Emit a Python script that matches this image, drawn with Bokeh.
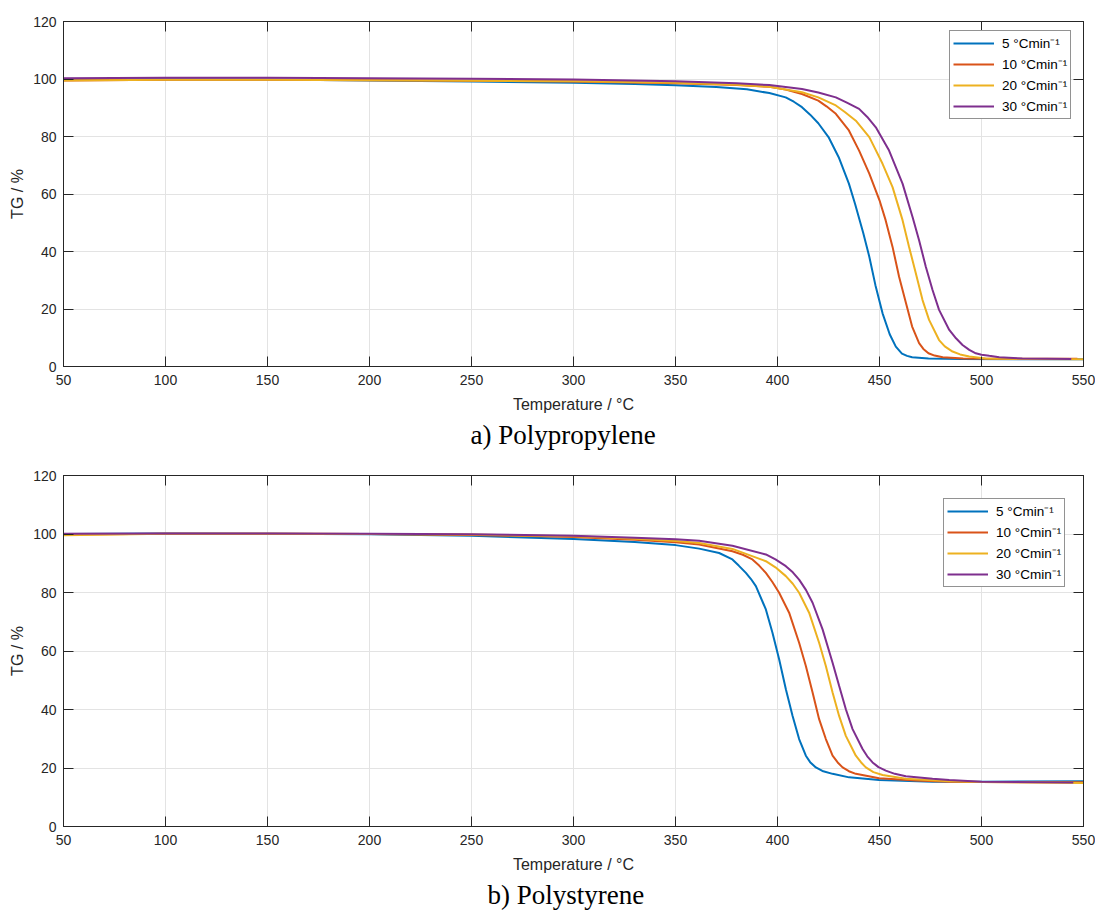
from bokeh.plotting import figure
from bokeh.models import (FixedTicker, LinearAxis, Legend, LegendItem, Title,
                          Range1d)
from bokeh.layouts import column
from bokeh.embed import file_html
from bokeh.resources import INLINE

# ---------------- data ----------------
x_ticks = [50, 100, 150, 200, 250, 300, 350, 400, 450, 500, 550]
y_ticks = [0, 20, 40, 60, 80, 100, 120]
labels = ["5 °Cmin⁻¹", "10 °Cmin⁻¹", "20 °Cmin⁻¹", "30 °Cmin⁻¹"]
colors = ["#0072BD", "#D95319", "#EDB120", "#7E2F8E"]

# a) Polypropylene
pp_t_5 = [50, 100, 150, 200, 250, 300, 330, 350, 370, 385, 396, 404, 408, 412, 416, 420, 425,
          430, 435, 438, 442, 445, 448, 451.5, 455, 458, 461, 463.5, 466, 474, 490, 520, 550]
pp_tg_5 = [99.8, 99.9, 99.8, 99.5, 99.1, 98.7, 98.3, 97.8, 97.2, 96.4, 95.1, 93.6, 92.1, 90.2,
           87.6, 84.6, 79.8, 72.8, 63.6, 56.6, 46.5, 38.2, 28.3, 18.5, 11.2, 6.9, 4.5, 3.7,
           3.2, 2.8, 2.6, 2.5, 2.5]
pp_t_10 = [50, 100, 150, 200, 250, 300, 350, 380, 396, 404, 412, 420, 424, 428.6, 435, 440,
           445, 450, 453, 456.4, 459.6, 463, 466, 469.4, 471.5, 474, 477, 481, 491, 510, 547]
pp_tg_10 = [99.5, 99.7, 99.7, 99.6, 99.4, 99.1, 98.5, 97.9, 97.3, 96.3, 94.8, 92.5, 90.5, 87.9,
            82.1, 75.1, 67.1, 57.8, 50.9, 41.6, 31.2, 22.0, 13.9, 8.1, 6.1, 4.6, 3.8, 3.2,
            2.8, 2.7, 2.7]
pp_t_20 = [50, 100, 150, 200, 250, 300, 350, 380, 396, 412, 420, 428.6, 433, 438.4, 445, 451.5,
           456.4, 461.3, 464.5, 467.8, 471.1, 474.3, 479.2, 482, 485.8, 489.5, 494, 502, 520, 550]
pp_tg_20 = [99.5, 99.7, 99.7, 99.6, 99.4, 99.2, 98.7, 98.0, 97.3, 95.4, 93.6, 90.8, 88.5, 85.5,
            79.8, 70.5, 62.4, 50.9, 41.6, 32.4, 23.1, 16.2, 9.2, 7.0, 5.2, 4.2, 3.5, 2.8, 2.6,
            2.5]
pp_t_30 = [50, 100, 150, 200, 250, 300, 350, 380, 396, 412, 420, 428.6, 434, 440, 444, 448.2,
           454.7, 461.3, 466.2, 469.4, 472.7, 476, 479.2, 484.2, 487.5, 490.7, 494, 497.2, 500,
           503.8, 508.7, 520, 544]
pp_tg_30 = [100.3, 100.4, 100.4, 100.3, 100.1, 99.8, 99.2, 98.5, 97.9, 96.5, 95.3, 93.6, 91.8,
            89.6, 86.8, 83.2, 75.1, 63.6, 52.0, 43.9, 34.7, 26.6, 19.7, 12.7, 9.8, 7.5, 5.8,
            4.6, 4.1, 3.7, 3.2, 2.8, 2.6]

# b) Polystyrene
ps_t_5 = [50, 100, 150, 200, 250, 300, 330, 350, 361.6, 371.4, 377.9, 381, 384.5, 387, 389.4,
          394.3, 397.5, 400.8, 404.1, 407.4, 410.6, 413.9, 416, 418.8, 422, 427, 435.1, 449.8,
          476, 500, 550]
ps_tg_5 = [100.0, 100.2, 100.1, 99.9, 99.4, 98.3, 97.3, 96.2, 95.0, 93.5, 91.3, 89.2, 86.7,
           84.6, 82.2, 74.2, 66.3, 57.2, 46.9, 37.8, 29.9, 24.2, 22.0, 20.2, 19.0, 18.0, 16.8,
           15.9, 15.3, 15.3, 15.5]
ps_t_10 = [50, 100, 150, 200, 250, 300, 330, 350, 361.6, 377.9, 383, 387.7, 391, 394.3, 397.5,
           400.8, 405.7, 410.6, 413.9, 417.2, 420.4, 423.7, 427, 429.5, 431.9, 435, 438.4,
           449.8, 467.8, 484.2, 500, 550]
ps_tg_10 = [99.8, 100.1, 100.1, 100.0, 99.7, 99.0, 98.0, 97.2, 96.4, 94.1, 92.9, 91.3, 89.2,
            86.7, 83.6, 79.9, 73.1, 62.8, 54.9, 45.8, 36.7, 29.9, 24.2, 21.9, 20.2, 18.9, 18.0,
            16.5, 15.7, 15.3, 15.2, 15.1]
ps_t_20 = [50, 100, 150, 200, 250, 300, 330, 350, 361.6, 377.9, 394.3, 399, 404.1, 407.5,
           410.6, 415.5, 420.4, 423.7, 427, 430.2, 433.5, 438.4, 441, 443.3, 447, 451.5, 462.9,
           484.2, 500, 550]
ps_tg_20 = [99.6, 100.1, 100.1, 100.0, 99.8, 99.2, 98.4, 97.6, 96.9, 94.9, 90.7, 88.6, 85.6,
            83.0, 79.9, 73.1, 62.8, 54.9, 45.8, 37.8, 31.0, 24.2, 21.9, 20.2, 18.6, 17.6, 16.3,
            15.5, 15.2, 14.9]
ps_t_30 = [50, 100, 150, 200, 250, 300, 330, 350, 361.6, 377.9, 394.3, 399, 404.1, 407.5,
           410.6, 414, 417.2, 422.1, 427, 430.2, 433.5, 436.8, 441.7, 444, 446.6, 449.5, 453.1,
           457.5, 462.9, 476, 484.2, 500, 545]
ps_tg_30 = [100.1, 100.2, 100.2, 100.1, 99.9, 99.4, 98.7, 98.2, 97.7, 96.0, 93.0, 91.3, 89.0,
            86.9, 84.4, 80.8, 76.5, 67.4, 56.0, 48.1, 40.1, 33.3, 26.5, 24.0, 21.9, 20.3, 19.1,
            18.0, 17.2, 16.3, 15.9, 15.3, 15.0]

pp_series = [(pp_t_5, pp_tg_5), (pp_t_10, pp_tg_10), (pp_t_20, pp_tg_20), (pp_t_30, pp_tg_30)]
ps_series = [(ps_t_5, ps_tg_5), (ps_t_10, ps_tg_10), (ps_t_20, ps_tg_20), (ps_t_30, ps_tg_30)]

AX = "#262626"
FONT = "Liberation Sans"


def make_panel(series, caption, cap_offset, frame_h, legend_xy, min_top, min_bottom):
    p = figure(frame_width=1020, frame_height=frame_h,
               x_range=Range1d(50, 550), y_range=Range1d(0, 120),
               output_backend="svg", toolbar_location=None,
               min_border_left=63, min_border_right=12, min_border_top=min_top,
               min_border_bottom=min_bottom)
    p.outline_line_color = AX
    p.outline_line_alpha = 1.0
    p.background_fill_color = "white"
    p.border_fill_color = "white"

    for ax, ticks in ((p.xaxis[0], x_ticks), (p.yaxis[0], y_ticks)):
        ax.ticker = FixedTicker(ticks=ticks)
        ax.major_tick_in = 10
        ax.major_tick_out = 0
        ax.minor_tick_in = 0
        ax.minor_tick_out = 0
        ax.axis_line_color = AX
        ax.major_tick_line_color = AX
        ax.major_label_text_font = FONT
        ax.major_label_text_font_size = "14px"
        ax.major_label_text_color = AX
        ax.axis_label_text_font = FONT
        ax.axis_label_text_font_size = "16px"
        ax.axis_label_text_font_style = "normal"
        ax.axis_label_text_color = AX
    p.xaxis.axis_label = "Temperature / °C"
    p.yaxis.axis_label = "TG / %"
    p.xaxis.major_label_standoff = 8
    p.xaxis.axis_label_standoff = 8
    p.yaxis.major_label_standoff = 7
    p.yaxis.axis_label_standoff = 4

    # mirrored inward ticks on top and right (no labels)
    for loc, ticks in (("right", y_ticks), ("above", x_ticks)):
        a = LinearAxis(ticker=FixedTicker(ticks=ticks), major_tick_in=10, major_tick_out=0,
                       minor_tick_in=0, minor_tick_out=0,
                       major_label_overrides={t: "" for t in ticks},
                       major_label_standoff=0, axis_line_color=AX, major_tick_line_color=AX)
        p.add_layout(a, loc)

    p.xgrid.ticker = FixedTicker(ticks=x_ticks)
    p.ygrid.ticker = FixedTicker(ticks=y_ticks)
    p.grid.grid_line_color = "#e3e3e3"
    p.grid.grid_line_width = 1

    items = []
    for (t, tg), c, lab in zip(series, colors, labels):
        r = p.line(t, tg, line_color=c, line_width=2)
        items.append(LegendItem(label=lab, renderers=[r]))

    leg = Legend(items=items, location=legend_xy, label_text_font=FONT,
                 label_text_font_size="13.5px", label_text_color="black",
                 glyph_width=41, glyph_height=16, label_height=16, spacing=3,
                 padding=3, margin=0, label_standoff=8,
                 border_line_color=AX, border_line_width=1,
                 background_fill_color="white", background_fill_alpha=1.0)
    p.add_layout(leg)

    p.add_layout(Title(text=caption, align="left", offset=cap_offset,
                       text_font="Liberation Serif", text_font_size="27px",
                       text_font_style="normal", text_color="black", standoff=4),
                 "below")
    return p


p1 = make_panel(pp_series, "a) Polypropylene", 407, 345, (886, 247), 21, 96)
p2 = make_panel(ps_series, "b) Polystyrene", 424, 351, (880, 239), 13, 84)

layout = column(p1, p2, spacing=0)
open("out.html", "w").write(file_html(layout, INLINE))
